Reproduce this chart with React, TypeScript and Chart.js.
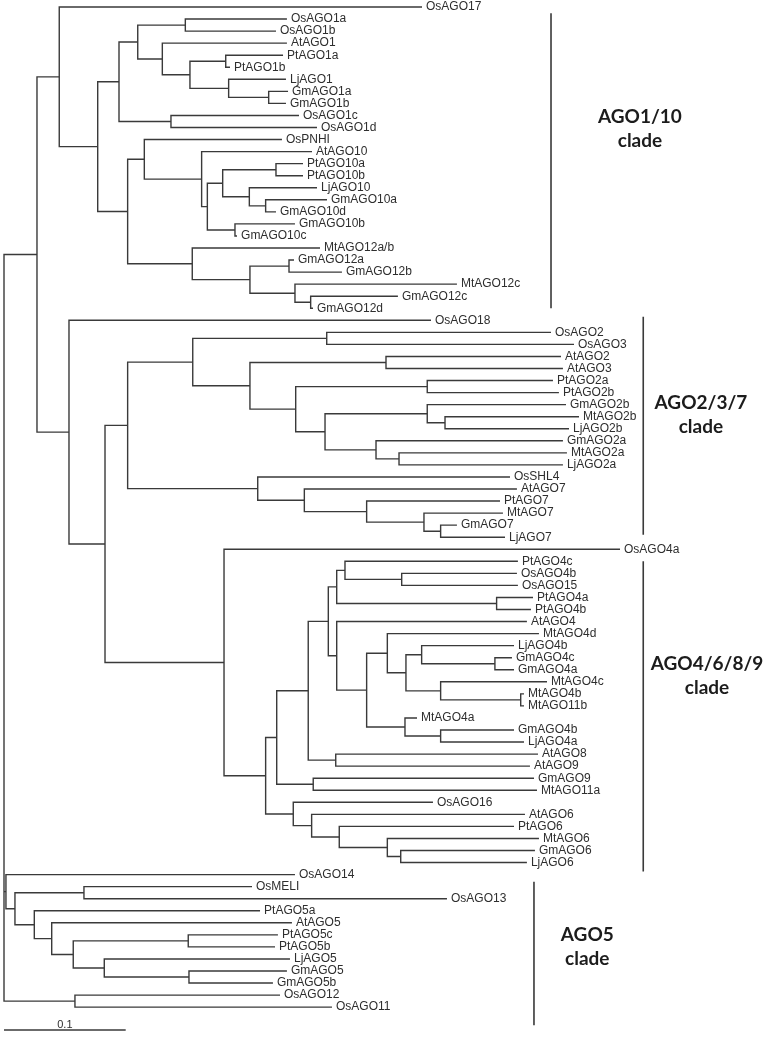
import React, { useEffect, useRef } from "react";
import { Chart, registerables } from "chart.js";

Chart.register(...registerables);

// ---------- DATA ----------
// Leaves in top-to-bottom order
const leafNames = [
  "OsAGO17", "OsAGO1a", "OsAGO1b", "AtAGO1", "PtAGO1a", "PtAGO1b", "LjAGO1", "GmAGO1a", "GmAGO1b", "OsAGO1c",
  "OsAGO1d", "OsPNHI", "AtAGO10", "PtAGO10a", "PtAGO10b", "LjAGO10", "GmAGO10a", "GmAGO10d", "GmAGO10b", "GmAGO10c",
  "MtAGO12a/b", "GmAGO12a", "GmAGO12b", "MtAGO12c", "GmAGO12c", "GmAGO12d", "OsAGO18", "OsAGO2", "OsAGO3", "AtAGO2",
  "AtAGO3", "PtAGO2a", "PtAGO2b", "GmAGO2b", "MtAGO2b", "LjAGO2b", "GmAGO2a", "MtAGO2a", "LjAGO2a", "OsSHL4",
  "AtAGO7", "PtAGO7", "MtAGO7", "GmAGO7", "LjAGO7", "OsAGO4a", "PtAGO4c", "OsAGO4b", "OsAGO15", "PtAGO4a",
  "PtAGO4b", "AtAGO4", "MtAGO4d", "LjAGO4b", "GmAGO4c", "GmAGO4a", "MtAGO4c", "MtAGO4b", "MtAGO11b", "MtAGO4a",
  "GmAGO4b", "LjAGO4a", "AtAGO8", "AtAGO9", "GmAGO9", "MtAGO11a", "OsAGO16", "AtAGO6", "PtAGO6", "MtAGO6",
  "GmAGO6", "LjAGO6", "OsAGO14", "OsMELI", "OsAGO13", "PtAGO5a", "AtAGO5", "PtAGO5c", "PtAGO5b", "LjAGO5",
  "GmAGO5", "GmAGO5b", "OsAGO12", "OsAGO11",
];

// Distance of each leaf tip from the root (substitutions per site)
const leafDepths = [
  0.3435, 0.2325, 0.2235, 0.2325, 0.2293, 0.1857, 0.2317, 0.2334, 0.2317, 0.2424,
  0.2572, 0.2284, 0.2531, 0.2457, 0.2457, 0.2572, 0.2654, 0.2235, 0.2391, 0.1915,
  0.2597, 0.2383, 0.2777, 0.3722, 0.3237, 0.2539, 0.3509, 0.4495, 0.4684, 0.4577,
  0.4593, 0.4511, 0.4560, 0.4618, 0.4725, 0.4643, 0.4593, 0.4626, 0.4593, 0.4158,
  0.4215, 0.4076, 0.4100, 0.3722, 0.4117, 0.5062, 0.4223, 0.4215, 0.4223, 0.4347,
  0.4330, 0.4297, 0.4396, 0.4191, 0.4174, 0.4191, 0.4462, 0.4273, 0.4273, 0.3394,
  0.4191, 0.4273, 0.4388, 0.4322, 0.4355, 0.4380, 0.3525, 0.4281, 0.4191, 0.4396,
  0.4363, 0.4297, 0.2391, 0.2038, 0.3640, 0.2104, 0.2366, 0.2251, 0.2227, 0.2350,
  0.2325, 0.2210, 0.2268, 0.2695,
];

// Internal nodes: name, distance from root, children (top to bottom)
const nodeNames = [
  "a1", "a2", "a3", "a4", "a5", "a6", "a7", "a8", "a9",
  "b1", "b2", "b3", "b4", "b5", "b6", "b7", "b8",
  "c1", "c2", "c3", "c4", "c5", "c6", "c7", "c8",
  "d1", "d2", "d3", "d4", "d5", "d6", "d7", "d8", "d9", "d10", "d11",
  "e1", "e2", "e3", "e4", "e5", "e6",
  "f1", "f2", "f3", "f4", "f5", "f6", "f7", "f8", "f9", "f10", "f11", "f12", "f13", "f14", "f15", "f16", "f17", "f18", "f19",
  "g1", "g2", "g3", "g4", "g5", "g6", "g7",
  "h1", "h2", "h3",
  "i1", "i2", "i3", "i4", "i5", "i6", "i7", "i8", "i9", "i10",
  "root",
];

const nodeDepths = [
  0.1490, 0.1822, 0.2175, 0.1846, 0.1528, 0.1301, 0.1099, 0.1372, 0.0945,
  0.2235, 0.2150, 0.2016, 0.1797, 0.1898, 0.1671, 0.1624, 0.1153,
  0.2342, 0.2520, 0.2391, 0.2021, 0.1547, 0.1016, 0.0770, 0.0454,
  0.2652, 0.3139, 0.3478, 0.3624, 0.3478, 0.3246, 0.3057, 0.2638, 0.2397, 0.2021, 0.1551,
  0.3588, 0.3451, 0.2980, 0.2468, 0.2085, 0.1016,
  0.3268, 0.2802, 0.4048, 0.2734, 0.4034, 0.3432, 0.4246, 0.3588, 0.3303, 0.3150, 0.3588, 0.3295, 0.2980, 0.2734, 0.2665, 0.2726, 0.2500, 0.2541, 0.2241,
  0.3260, 0.3150, 0.2755, 0.2528, 0.2377, 0.2150, 0.1808,
  0.0830, 0.0534, 0.0271,
  0.0657, 0.1514, 0.1520, 0.0824, 0.0569, 0.0392, 0.0249, 0.0090, 0.0016, 0.0583,
  0,
];

const nodeChildren: string[][] = [
  ["OsAGO1a", "OsAGO1b"], ["PtAGO1a", "PtAGO1b"], ["GmAGO1a", "GmAGO1b"], ["LjAGO1", "a3"], ["a2", "a4"],
  ["AtAGO1", "a5"], ["a1", "a6"], ["OsAGO1c", "OsAGO1d"], ["a7", "a8"],
  ["PtAGO10a", "PtAGO10b"], ["GmAGO10a", "GmAGO10d"], ["LjAGO10", "b2"], ["b1", "b3"], ["GmAGO10b", "GmAGO10c"],
  ["b4", "b5"], ["AtAGO10", "b6"], ["OsPNHI", "b7"],
  ["GmAGO12a", "GmAGO12b"], ["GmAGO12c", "GmAGO12d"], ["MtAGO12c", "c2"], ["c1", "c3"], ["MtAGO12a/b", "c4"],
  ["b8", "c5"], ["a9", "c6"], ["OsAGO17", "c7"],
  ["OsAGO2", "OsAGO3"], ["AtAGO2", "AtAGO3"], ["PtAGO2a", "PtAGO2b"], ["MtAGO2b", "LjAGO2b"], ["GmAGO2b", "d4"],
  ["MtAGO2a", "LjAGO2a"], ["GmAGO2a", "d6"], ["d5", "d7"], ["d3", "d8"], ["d2", "d9"], ["d1", "d10"],
  ["GmAGO7", "LjAGO7"], ["MtAGO7", "e1"], ["PtAGO7", "e2"], ["AtAGO7", "e3"], ["OsSHL4", "e4"], ["d11", "e5"],
  ["OsAGO4b", "OsAGO15"], ["PtAGO4c", "f1"], ["PtAGO4a", "PtAGO4b"], ["f2", "f3"], ["GmAGO4c", "GmAGO4a"],
  ["LjAGO4b", "f5"], ["MtAGO4b", "MtAGO11b"], ["MtAGO4c", "f7"], ["f6", "f8"], ["MtAGO4d", "f9"],
  ["GmAGO4b", "LjAGO4a"], ["MtAGO4a", "f11"], ["f10", "f12"], ["AtAGO4", "f13"], ["f4", "f14"],
  ["AtAGO8", "AtAGO9"], ["f15", "f16"], ["GmAGO9", "MtAGO11a"], ["f17", "f18"],
  ["GmAGO6", "LjAGO6"], ["MtAGO6", "g1"], ["PtAGO6", "g2"], ["AtAGO6", "g3"], ["OsAGO16", "g4"], ["f19", "g5"],
  ["OsAGO4a", "g6"],
  ["e6", "g7"], ["OsAGO18", "h1"], ["c8", "h2"],
  ["OsMELI", "OsAGO13"], ["PtAGO5c", "PtAGO5b"], ["GmAGO5", "GmAGO5b"], ["LjAGO5", "i3"], ["i2", "i4"],
  ["AtAGO5", "i5"], ["PtAGO5a", "i6"], ["i1", "i7"], ["OsAGO14", "i8"], ["OsAGO12", "OsAGO11"],
  ["h3", "i9", "i10"],
];

// Clades: name, bar extent (in leaf rows)
const cladeNames = ["AGO1/10", "AGO2/3/7", "AGO4/6/8/9", "AGO5"];
const cladeBarStart = [0.52, 25.7, 46.0, 72.6];
const cladeBarEnd = [25.0, 43.8, 71.75, 84.5];

const scaleBarLength = 0.1;
const scaleBarLabel = "0.1";

// ---------- LAYOUT (positions / styles) ----------
const X_MIN = -0.00329;
const X_MAX = 0.6311;
const Y_MIN = -0.581;
const Y_MAX = 85.643;
const cladeBarX = [0.4495, 0.5253, 0.5253, 0.4355];
const cladeLabelX = [0.5226, 0.5727, 0.5777, 0.4793];
const cladeLabelRow = [9.6, 33.36, 55.0, 77.5];
const cladeLineGap = 24; // px between "AGOx" and "clade" baselines
const scaleBarRow = 84.9;
const LINE_COLOR = "#3a3a3a";
const TEXT_COLOR = "#2e2e2e";

function buildTree() {
  const depthOf: Record<string, number> = {};
  const rowOf: Record<string, number> = {};
  leafNames.forEach((n, i) => {
    depthOf[n] = leafDepths[i];
    rowOf[n] = i;
  });
  nodeNames.forEach((n, i) => {
    depthOf[n] = nodeDepths[i];
  });
  const getRow = (n: string): number => {
    if (n in rowOf) return rowOf[n];
    const kids = nodeChildren[nodeNames.indexOf(n)];
    const r = (getRow(kids[0]) + getRow(kids[kids.length - 1])) / 2;
    rowOf[n] = r;
    return r;
  };
  const segs: { x: number; y: number }[][] = [];
  nodeNames.forEach((n, i) => {
    const kids = nodeChildren[i];
    const d = nodeDepths[i];
    const first = kids[0];
    const last = kids[kids.length - 1];
    segs.push([
      { x: depthOf[first], y: getRow(first) },
      { x: d, y: getRow(first) },
      { x: d, y: getRow(last) },
      { x: depthOf[last], y: getRow(last) },
    ]);
    kids.slice(1, -1).forEach((k) => {
      segs.push([
        { x: d, y: getRow(k) },
        { x: depthOf[k], y: getRow(k) },
      ]);
    });
  });
  return segs;
}

export default function App() {
  const ref = useRef<HTMLCanvasElement | null>(null);

  useEffect(() => {
    document.body.style.margin = "0";
    const canvas = ref.current;
    if (!canvas) return;
    const segs = buildTree();
    const lineDs = (data: { x: number; y: number }[], width: number) => ({
      data,
      showLine: true,
      borderColor: LINE_COLOR,
      borderWidth: width,
      pointRadius: 0,
      pointHoverRadius: 0,
      fill: false,
      tension: 0,
      borderJoinStyle: "miter" as const,
      borderCapStyle: "butt" as const,
    });
    const datasets: any[] = segs.map((s) => lineDs(s, 1.4));
    cladeNames.forEach((_, i) => {
      datasets.push(
        lineDs(
          [
            { x: cladeBarX[i], y: cladeBarStart[i] },
            { x: cladeBarX[i], y: cladeBarEnd[i] },
          ],
          1.6
        )
      );
    });
    datasets.push(
      lineDs(
        [
          { x: 0, y: scaleBarRow },
          { x: scaleBarLength, y: scaleBarRow },
        ],
        1.4
      )
    );

    const textPlugin = {
      id: "treeText",
      afterDatasetsDraw(chart: any) {
        const ctx = chart.ctx as CanvasRenderingContext2D;
        const xs = chart.scales.x;
        const ys = chart.scales.y;
        ctx.save();
        ctx.fillStyle = TEXT_COLOR;
        ctx.font = "12px 'Liberation Sans', Arial, sans-serif";
        ctx.textBaseline = "middle";
        ctx.textAlign = "left";
        leafNames.forEach((n, i) => {
          ctx.fillText(n, xs.getPixelForValue(leafDepths[i]) + 4, ys.getPixelForValue(i));
        });
        ctx.font = "bold 19px Lato, 'Open Sans', sans-serif";
        ctx.fillStyle = "#1c1c1c";
        ctx.textAlign = "center";
        ctx.textBaseline = "alphabetic";
        cladeNames.forEach((n, i) => {
          const px = xs.getPixelForValue(cladeLabelX[i]);
          const py = ys.getPixelForValue(cladeLabelRow[i]);
          ctx.fillText(n, px, py);
          ctx.fillText("clade", px, py + cladeLineGap);
        });
        ctx.font = "11px 'Liberation Sans', Arial, sans-serif";
        ctx.fillStyle = TEXT_COLOR;
        ctx.fillText(
          scaleBarLabel,
          xs.getPixelForValue(scaleBarLength / 2),
          ys.getPixelForValue(scaleBarRow) - 2
        );
        ctx.restore();
      },
    };

    const chart = new Chart(canvas, {
      type: "scatter",
      data: { datasets },
      options: {
        animation: false,
        responsive: false,
        maintainAspectRatio: false,
        layout: { padding: 0 },
        plugins: { legend: { display: false }, tooltip: { enabled: false } },
        events: [],
        scales: {
          x: { type: "linear", min: X_MIN, max: X_MAX, display: false },
          y: { type: "linear", min: Y_MIN, max: Y_MAX, reverse: true, display: false },
        },
      },
      plugins: [textPlugin],
    });
    return () => chart.destroy();
  }, []);

  return (
    <div style={{ width: 772, height: 1039, background: "#fff" }}>
      <canvas ref={ref} width={772} height={1039} style={{ display: "block" }} />
    </div>
  );
}
